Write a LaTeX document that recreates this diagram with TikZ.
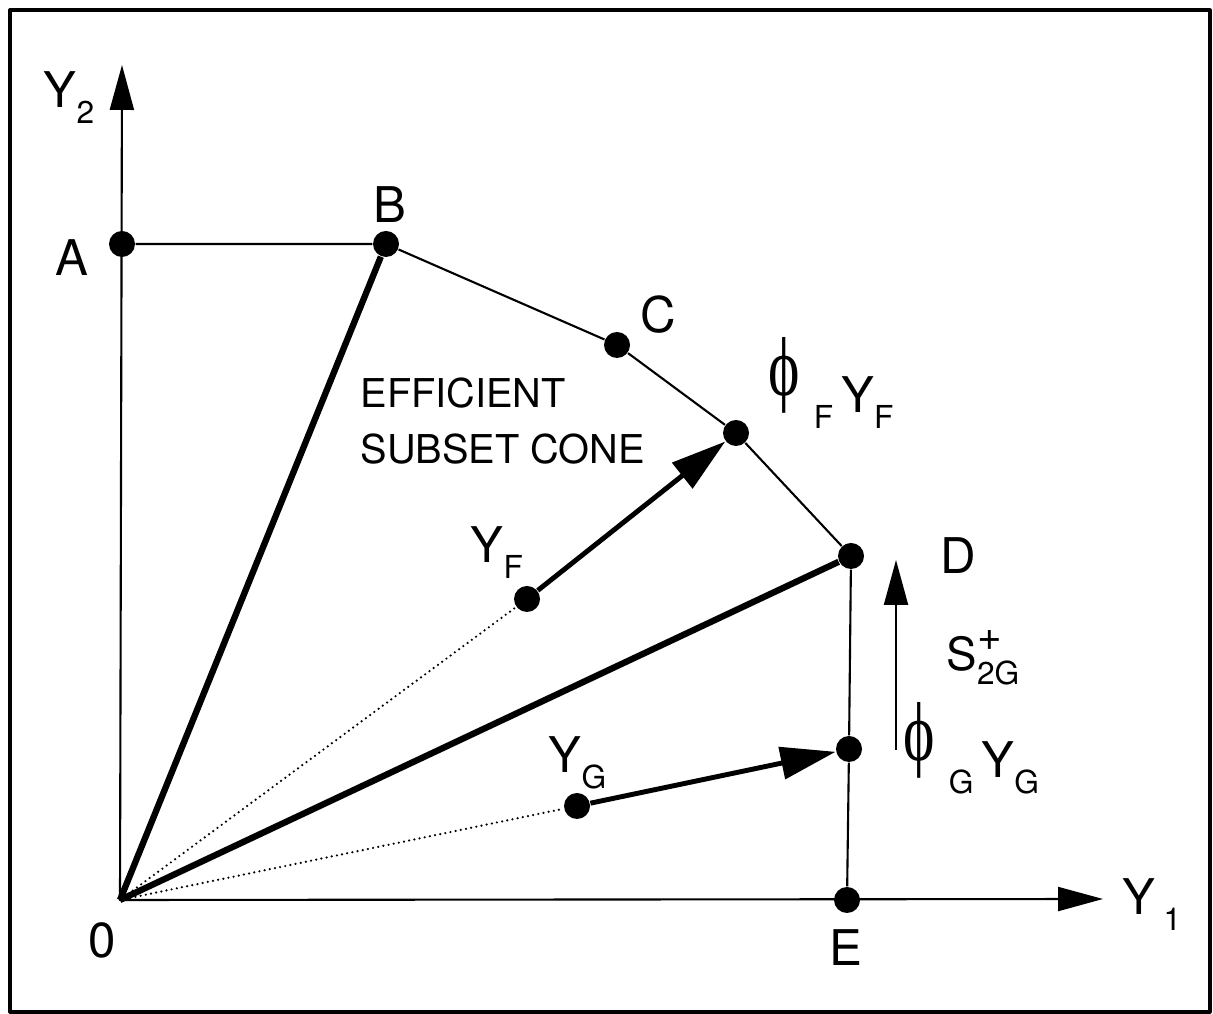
\documentclass[tikz,border=0pt]{standalone}
\usepackage{fontspec}
\setmainfont{TeX Gyre Heros}
\newfontfamily\phifont{Liberation Serif}
\usetikzlibrary{arrows.meta}
\tikzset{
  every picture/.style={line join=round, >=Stealth},
  dot/.style={circle, fill, inner sep=0pt, minimum size=0.26cm},
  lbl/.style={font=\fontsize{14}{16}\selectfont, inner sep=0pt},
  sublbl/.style={lbl, anchor=base west},
  axis/.style={line width=0.6pt, -{Triangle[length=0.45cm,width=0.24cm]}},
  edge/.style={line width=0.6pt},
  cone/.style={line width=1.8pt},
  move/.style={line width=1.4pt, -{Triangle[length=0.55cm,width=0.32cm]}},
  ray/.style={line width=0.7pt, line cap=round, dash pattern=on 0pt off 1.5pt},
}
\newdimen\phidp
\newcommand\sbs[1]{\raisebox{-0.6ex}{\fontsize{9}{9}\selectfont #1}}
\newcommand\phisym{\setbox0\hbox{\scalebox{1}[1.4]{\phifont\fontsize{17}{17}\selectfont ϕ}}%
  \phidp=\dp0\raisebox{\phidp}{\box0}}

\begin{document}
\begin{tikzpicture}
\useasboundingbox (-1.20,-1.14) rectangle (10.93,9.00);
\draw[line width=0.9pt] (-1.10,-1.12) rectangle (10.90,8.90);
% axes
\coordinate (O) at (0,0);
\coordinate (Y2) at (0.02,8.35);
\coordinate (Y1) at (9.83,0.01);
\draw[axis] (O) -- (Y2);
\draw[axis] (O) -- (Y1);
% frontier points
\node[dot] (A) at (0.02,6.56) {};
\node[dot] (B) at (2.66,6.56) {};
\node[dot] (C) at (4.97,5.55) {};
\node[dot] (PF) at (6.16,4.67) {};
\node[dot] (D) at (7.31,3.44) {};
\node[dot] (PG) at (7.29,1.51) {};
\node[dot] (E) at (7.27,0) {};
\node[dot] (YF) at (4.07,3.01) {};
\node[dot] (YG) at (4.57,0.94) {};
\draw[edge] (A) -- (B) -- (C) -- (PF) -- (D) -- (PG) -- (E);
\draw[cone] (O) -- (B);
\draw[cone] (O) -- (D);
\draw[ray] (O) -- (YF);
\draw[ray] (O) -- (YG);
\draw[move] (YF) -- (PF);
\draw[move] (YG) -- (PG);
% slack
\coordinate (s0) at (7.76,1.50);
\coordinate (s1) at (7.76,3.40);
\draw[axis] (s0) -- (s1);
% labels
\node[sublbl] (lY2) at (-0.77,7.92) {Y\sbs{2}};
\node[sublbl] (lY1) at (10.02,-0.15) {Y\,\sbs{1}};
\node[lbl] (lO) at (-0.18,-0.40) {0};
\node[lbl] (lA) at (-0.48,6.42) {A};
\node[lbl] (lB) at (2.70,6.95) {B};
\node[lbl] (lC) at (5.38,5.85) {C};
\node[lbl] (lD) at (8.38,3.44) {D};
\node[lbl] (lE) at (7.26,-0.48) {E};
\node[sublbl] (lYF) at (3.50,3.37) {Y\sbs{F}};
\node[sublbl] (lYG) at (4.28,1.27) {Y\sbs{G}};
\node[sublbl] (lPF) at (6.48,4.87) {\phisym\;\sbs{F}\,Y\sbs{F}};
\node[sublbl] (lPG) at (7.83,1.22) {\phisym\;\sbs{G}\,Y\sbs{G}};
\node[lbl, font=\fontsize{13}{15}\selectfont] (lS) at (8.63,2.42)
  {S\raisebox{-0.6ex}{\fontsize{9}{9}\selectfont\shortstack[l]{\fontsize{12}{12}\selectfont +\\[0pt]2G}}};
\node[font=\fontsize{11.3}{14}\selectfont, anchor=west, align=left, inner sep=0pt] (cone) at (2.40,4.79)
  {EFFICIENT\\[2pt]SUBSET CONE};
\end{tikzpicture}
\end{document}
